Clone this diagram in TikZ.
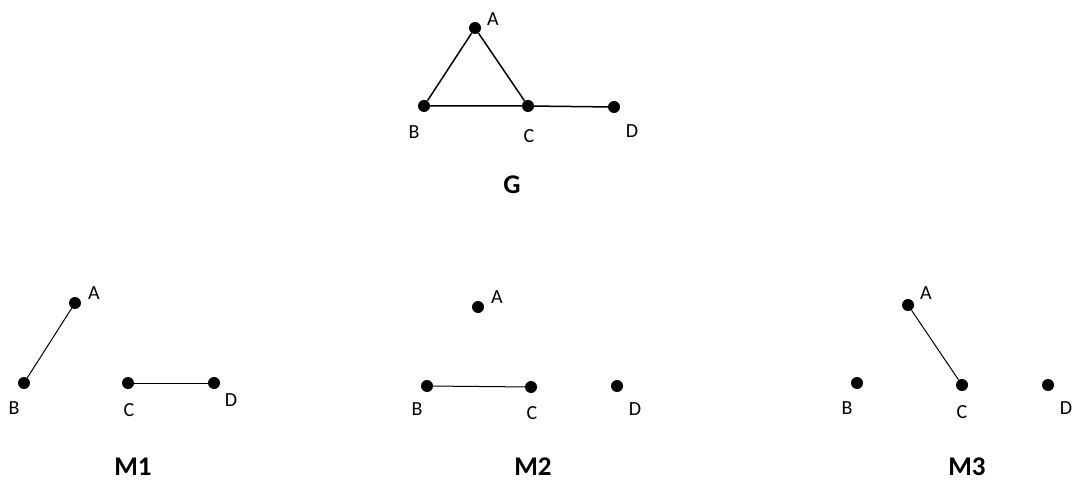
\documentclass[tikz,border=0pt]{standalone}
\usepackage{fontspec}
\setmainfont{Carlito}
\usepackage{tikz}
\usetikzlibrary{positioning}

\begin{document}
\begin{tikzpicture}[x=1pt, y=-1pt,
  vtx/.style={circle, fill=black, inner sep=0pt, minimum size=12pt},
  lbl/.style={font=\fontsize{20}{24}\selectfont, inner sep=0pt},
  ttl/.style={font=\fontsize{27}{30}\selectfont\bfseries, inner sep=0pt},
  gedge/.style={line width=1.5pt},
  medge/.style={line width=1pt}]
\useasboundingbox (0,0) rectangle (1073,481);
% graph G
\node[vtx] (ga) at (475,28) {}; \node[vtx] (gb) at (424,106) {};
\node[vtx] (gc) at (528,106) {}; \node[vtx] (gd) at (614,107) {};
\node[lbl] (gla) at (493,19) {A}; \node[lbl] (glb) at (414,132) {B};
\node[lbl] (glc) at (529,136) {C}; \node[lbl] (gld) at (632,131) {D};
\draw[gedge] (ga) -- (gb) -- (gc) -- (ga); \draw[gedge] (gc) -- (gd);
\node[ttl] (gname) at (512,185) {G};
% matching M1
\node[vtx] (m1a) at (75,303) {}; \node[vtx] (m1b) at (24,383) {};
\node[vtx] (m1c) at (128,383) {}; \node[vtx] (m1d) at (214,383) {};
\node[lbl] (m1la) at (94,293) {A}; \node[lbl] (m1lb) at (14,408) {B};
\node[lbl] (m1lc) at (129,410) {C}; \node[lbl] (m1ld) at (231,400) {D};
\draw[medge] (m1a) -- (m1b); \draw[medge] (m1c) -- (m1d);
\node[ttl] (m1name) at (133,467) {M1};
% matching M2
\node[vtx] (m2a) at (478,307) {}; \node[vtx] (m2b) at (427,386) {};
\node[vtx] (m2c) at (531,387) {}; \node[vtx] (m2d) at (617,386) {};
\node[lbl] (m2la) at (497,297) {A}; \node[lbl] (m2lb) at (417,409) {B};
\node[lbl] (m2lc) at (532,413) {C}; \node[lbl] (m2ld) at (635,409) {D};
\draw[medge] (m2b) -- (m2c);
\node[ttl] (m2name) at (533,467) {M2};
% matching M3
\node[vtx] (m3a) at (908,305) {}; \node[vtx] (m3b) at (857,383) {};
\node[vtx] (m3c) at (962,385) {}; \node[vtx] (m3d) at (1048,385) {};
\node[lbl] (m3la) at (926,293) {A}; \node[lbl] (m3lb) at (847,408) {B};
\node[lbl] (m3lc) at (962,412) {C}; \node[lbl] (m3ld) at (1066,408) {D};
\draw[medge] (m3a) -- (m3c);
\node[ttl] (m3name) at (967,467) {M3};
\end{tikzpicture}
\end{document}
